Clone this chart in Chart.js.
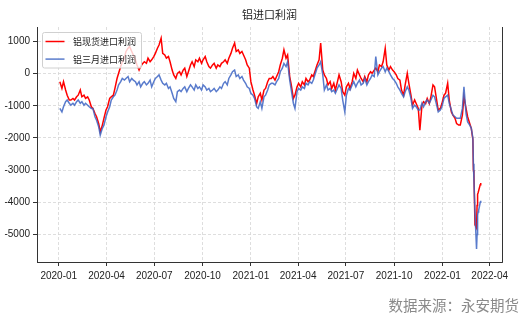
<!DOCTYPE html>
<html>
<head>
<meta charset="utf-8">
<script src="https://cdn.jsdelivr.net/npm/chart.js@4.4.0/dist/chart.umd.min.js"></script>
<style>
  html, body { margin: 0; padding: 0; background: #fff; }
  #wrap { position: relative; width: 527px; height: 326px; }
  #src { position: absolute; right: 8px; top: 294px; font: 14.5px "Noto Sans CJK SC", sans-serif; color: #8a8a8a; line-height: 21px; }
</style>
</head>
<body>
<div id="wrap">
  <canvas id="c" width="527" height="326"></canvas>
  <div id="src">数据来源：永安期货</div>
</div>
<script>
// ---- chart text ----
const TITLE = '铝进口利润';
const SERIES_NAMES = ['铝现货进口利润', '铝三月进口利润'];
const X_TICK_LABELS = ['2020-01', '2020-04', '2020-07', '2020-10', '2021-01',
                       '2021-04', '2021-07', '2021-10', '2022-01', '2022-04'];
const Y_TICKS = [-5000, -4000, -3000, -2000, -1000, 0, 1000];

// ---- observation dates: Friday + following Tuesday each week, then daily through the March 2022 slump ----
const WEEKLY_START = '2020-01-03';
const WEEKLY_COUNT = 111;
const DAILY_DATES = ['2022-02-18', '2022-02-22', '2022-02-25', '2022-02-28', '2022-03-01',
                     '2022-03-02', '2022-03-04', '2022-03-07', '2022-03-08', '2022-03-09',
                     '2022-03-10', '2022-03-11', '2022-03-14', '2022-03-15'];

// ---- import profit, 元/吨 (pairs per week: Fri, Tue) ----
const spotProfit = [
  -250, -460, -250, -510, -670, -820, -820, -770, -820, -720, -670, -510, -720, -670, -770, -720, -820, -1030, -1080, -1240,
  -1340, -1550, -1810, -1600, -1390, -1130, -1030, -770, -720, -670, -460, -150, 10, 220, 370, 480, 690, 790, 840, 690,
  580, 430, 270, 110, 220, 320, 370, 320, 480, 370, 430, 530, 630, 790, 890, 1100, 630, 580, 480, 530,
  370, 110, -40, -150, 10, 60, -40, 110, 170, -90, 60, 270, 370, 220, 430, 370, 480, 320, 430, 530,
  370, 220, 170, 270, 320, 170, 270, 220, 320, 370, 430, 320, 480, 630, 790, 950, 690, 740, 630, 690,
  580, 430, 270, 170, -250, -510, -670, -930, -720, -610, -820, -510, -460, -250, -150, -150, -90, -200, -90, 60,
  270, 480, 740, 480, 580, -90, -350, -770, -670, -410, -300, -410, -250, -350, -150, -250, -200, -40, -90, 110,
  270, 430, 950, 110, -40, -150, -350, -250, -460, -300, -510, -250, -40, -250, -560, -670, -410, -300, -460, -250,
  10, -150, 110, -40, -150, -250, -90, -250, -40, 60, 10, 110, 170, 60, 270, 220, 370, 790, 270, 110,
  220, 110, 60, -40, -150, -200, -510, -670, -350, 10, -300, -670, -980, -820, -930, -1080, -1760, -980, -870, -930,
  -770, -930, -720, -350, -410, -820, -1130, -1080, -930, -670, -610, -300, -820, -1190, -1290, -1390, -1550, -1600, -1600, -1290,
  -720, -1080,
  -1340, -1550, -1700, -2050, -3000, -3100, -4700, -4800, -4100, -3750, -3700, -3700, -3450, -3400
];
const threeMonthProfit = [
  -1080, -1190, -1030, -870, -820, -920, -980, -920, -980, -870, -820, -920, -870, -980, -920, -980, -1030, -1080, -1080, -1340,
  -1450, -1650, -1910, -1700, -1600, -1340, -1190, -1030, -820, -720, -670, -510, -350, -250, -150, -200, -150, -90, -250, -150,
  -200, -250, -350, -250, -410, -300, -250, -350, -300, -200, -410, -250, -150, -90, -40, -200, -300, -350, -300, -460,
  -410, -610, -770, -870, -560, -510, -560, -460, -410, -560, -460, -350, -410, -510, -350, -460, -410, -510, -350, -410,
  -510, -460, -560, -510, -460, -560, -510, -410, -460, -300, -250, -350, -150, -40, 60, 110, -90, -40, -150, -90,
  -200, -300, -410, -460, -610, -670, -770, -1030, -1080, -870, -1080, -720, -670, -510, -350, -300, -300, -350, -250, -150,
  60, 170, 320, 220, 370, -200, -510, -920, -1080, -560, -460, -510, -410, -460, -300, -350, -250, -300, -200, 10,
  170, 270, 370, -40, -510, -350, -510, -460, -560, -510, -610, -460, -350, -460, -820, -1190, -670, -460, -510, -350,
  -250, -410, -300, -200, -350, -300, -150, -350, -250, -150, -40, -90, 530, -40, 60, 170, 220, 60, 170, 60,
  -40, -150, -200, -300, -410, -510, -610, -720, -560, -410, -510, -770, -1080, -980, -1030, -1130, -1130, -920, -1030, -870,
  -820, -920, -820, -670, -720, -980, -1190, -1130, -1030, -770, -720, -670, -920, -1130, -1290, -1340, -1390, -1390, -1390, -1080,
  -410, -1240,
  -1500, -1600, -1700, -2000, -2800, -3300, -4300, -5450, -5000, -4400, -4300, -4250, -4000, -3950
];

// ---- helpers ----
const DAY_MS = 864e5;
const DAY0 = Date.parse('2020-01-01');
const toDay = s => (Date.parse(s) - DAY0) / DAY_MS;
const iso = ms => new Date(ms).toISOString().slice(0, 10);

const dates = [];
for (let i = 0; i < WEEKLY_COUNT; i++) {
  const fri = Date.parse(WEEKLY_START) + i * 7 * DAY_MS;
  dates.push(iso(fri), iso(fri + 4 * DAY_MS));
}
dates.push(...DAILY_DATES);

const toPoints = vals => dates.map((d, i) => ({ x: toDay(d), y: vals[i] }));

const TICK_FONT = { family: '"Liberation Sans Narrow", "Liberation Sans", sans-serif', size: 10 };
const CJK = '"Noto Sans CJK SC", sans-serif';

// title, right spine and the in-plot legend box
const decor = {
  id: 'decor',
  afterDraw(chart) {
    const { ctx, chartArea: a } = chart;
    ctx.save();
    ctx.strokeStyle = '#333';
    ctx.lineWidth = 1;
    ctx.beginPath();
    ctx.moveTo(Math.round(a.right) + 0.5, a.top);
    ctx.lineTo(Math.round(a.right) + 0.5, a.bottom);
    ctx.stroke();

    ctx.fillStyle = '#222';
    ctx.font = '11px ' + CJK;
    ctx.textAlign = 'center';
    ctx.textBaseline = 'middle';
    ctx.fillText(TITLE, (a.left + a.right) / 2, 15);

    const lx = a.left + 5.5, ly = a.top + 5.5, lw = 99, lh = 35.5;
    ctx.beginPath();
    ctx.roundRect(lx, ly, lw, lh, 2);
    ctx.fillStyle = 'rgba(255,255,255,0.8)';
    ctx.fill();
    ctx.strokeStyle = '#d0d0d0';
    ctx.lineWidth = 1;
    ctx.stroke();

    chart.data.datasets.forEach((ds, i) => {
      const y = ly + 9 + i * 17.6;
      ctx.strokeStyle = ds.borderColor;
      ctx.lineWidth = 1.5;
      ctx.beginPath();
      ctx.moveTo(lx + 3, y);
      ctx.lineTo(lx + 22, y);
      ctx.stroke();
      ctx.fillStyle = '#222';
      ctx.font = '9px ' + CJK;
      ctx.textAlign = 'left';
      ctx.fillText(ds.label, lx + 30.6, y);
    });
    ctx.restore();
  }
};

const gridOpts = { color: '#d6d6d6', lineWidth: 0.8, tickLength: 4, tickColor: '#333', tickWidth: 1 };
const borderOpts = { display: true, color: '#333', width: 1, dash: [3, 2] };

new Chart(document.getElementById('c'), {
  type: 'line',
  data: {
    datasets: [
      { label: SERIES_NAMES[0], data: toPoints(spotProfit), borderColor: '#ff0000',
        borderWidth: 1.5, pointRadius: 0, tension: 0, order: 2 },
      { label: SERIES_NAMES[1], data: toPoints(threeMonthProfit), borderColor: 'rgba(60,100,195,0.85)',
        borderWidth: 1.5, pointRadius: 0, tension: 0, order: 1 }
    ]
  },
  options: {
    responsive: false,
    animation: false,
    devicePixelRatio: 1,
    layout: { padding: { left: 0, right: 25, top: 27, bottom: 0 } },
    plugins: { legend: { display: false }, title: { display: false }, tooltip: { enabled: false } },
    scales: {
      x: {
        type: 'linear', min: -41.5, max: 844.5,
        afterBuildTicks: s => { s.ticks = X_TICK_LABELS.map(l => ({ value: toDay(l + '-01') })); },
        ticks: { callback: (v, i) => X_TICK_LABELS[i], font: TICK_FONT, color: '#222',
                 padding: 4, maxRotation: 0, autoSkip: false },
        grid: gridOpts,
        border: borderOpts,
        afterFit: s => { s.height = 64; s.paddingLeft = 0; s.paddingRight = 0; }
      },
      y: {
        min: -5855, max: 1450,
        afterBuildTicks: s => { s.ticks = Y_TICKS.map(v => ({ value: v })); },
        ticks: { callback: v => String(v), font: TICK_FONT, color: '#222', padding: 3 },
        grid: gridOpts,
        border: borderOpts,
        afterFit: s => { s.width = 37; s.paddingTop = 0; s.paddingBottom = 0; }
      }
    }
  },
  plugins: [decor]
});
</script>
</body>
</html>
